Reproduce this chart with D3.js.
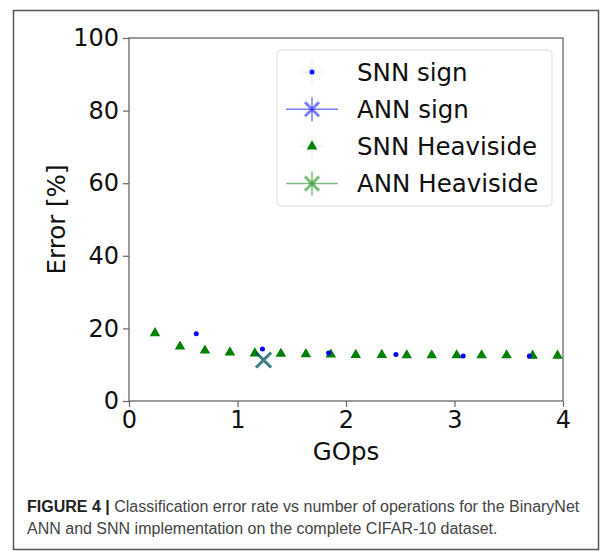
<!DOCTYPE html>
<html>
<head>
<meta charset="utf-8">
<script src="https://cdn.jsdelivr.net/npm/d3@7"></script>
<style>
  body { margin: 0; background: #fff; }
  svg { display: block; }
</style>
</head>
<body>
<svg id="chart" width="604" height="559"></svg>
<script>
    // data
    var snnSignOps = [0.62, 1.23, 1.84, 2.46, 3.08, 3.69];
    var snnSignErr = [18.5, 14.3, 13.2, 12.8, 12.4, 12.4];
    var snnHeavOps = [0.24, 0.47, 0.70, 0.93, 1.16, 1.40, 1.63, 1.86, 2.09, 2.33, 2.56, 2.79, 3.02, 3.25, 3.48, 3.72, 3.95];
    var snnHeavErr = [18.7, 15.0, 13.9, 13.4, 13.1, 13.0, 12.9, 12.8, 12.7, 12.7, 12.6, 12.6, 12.6, 12.6, 12.6, 12.5, 12.5];
    var annSign = [1.24, 11.3];
    var annHeav = [1.24, 11.3];
    var xTicks = [0, 1, 2, 3, 4];
    var yTicks = [0, 20, 40, 60, 80, 100];
    var legendLabels = ['SNN sign', 'ANN sign', 'SNN Heaviside', 'ANN Heaviside'];

    var svg = d3.select('#chart');
    var margin = { top: 38, left: 129, right: 41, bottom: 158 };
    var width = 604 - margin.left - margin.right;
    var height = 559 - margin.top - margin.bottom;

    // outer figure frame
    svg.append('rect')
        .attr('x', 13.5).attr('y', 10.5)
        .attr('width', 585).attr('height', 539)
        .attr('fill', 'none').attr('stroke', '#555').attr('stroke-width', 1.5);

    var x = d3.scaleLinear().domain([0, 4]).range([0, width]);
    var y = d3.scaleLinear().domain([0, 100]).range([height, 0]);

    var g = svg.append('g').attr('transform', 'translate(' + margin.left + ',' + margin.top + ')');

    var xAxis = g.append('g')
        .attr('transform', 'translate(0,' + height + ')')
        .call(d3.axisBottom(x).tickValues(xTicks).tickFormat(d3.format('d')).tickSizeOuter(0).tickSize(6).tickPadding(4));
    var yAxis = g.append('g')
        .call(d3.axisLeft(y).tickValues(yTicks).tickSizeOuter(0).tickSize(6).tickPadding(4));

    [xAxis, yAxis].forEach(function (a) {
        a.select('.domain').remove();
        a.selectAll('line').attr('stroke', '#666').attr('stroke-width', 1.2);
        a.selectAll('text')
            .attr('font-family', 'DejaVu Sans')
            .attr('font-size', 24)
            .attr('fill', '#111');
    });

    // box spines
    g.append('rect')
        .attr('width', width).attr('height', height)
        .attr('fill', 'none').attr('stroke', '#666').attr('stroke-width', 1.3);

    var tri = d3.symbol().type(d3.symbolTriangle).size(48);

    g.selectAll('.heav')
        .data(snnHeavOps)
        .enter().append('path')
        .attr('class', 'heav')
        .attr('transform', function (d, i) { return 'translate(' + x(d) + ',' + y(snnHeavErr[i]) + ')'; })
        .attr('d', tri)
        .attr('fill', 'green');

    g.selectAll('.sign')
        .data(snnSignOps)
        .enter().append('circle')
        .attr('class', 'sign')
        .attr('cx', function (d) { return x(d); })
        .attr('cy', function (d, i) { return y(snnSignErr[i]); })
        .attr('r', 2.5)
        .attr('fill', 'blue');

    function drawX(sel, px, py, color, r) {
        sel.append('path')
            .attr('d', 'M' + (px - r) + ',' + (py - r) + 'L' + (px + r) + ',' + (py + r) +
                'M' + (px - r) + ',' + (py + r) + 'L' + (px + r) + ',' + (py - r))
            .attr('stroke', color).attr('stroke-opacity', 0.5).attr('stroke-width', 3);
    }
    drawX(g, x(annSign[0]), y(annSign[1]), 'blue', 7.5);
    drawX(g, x(annHeav[0]), y(annHeav[1]), 'green', 7.5);

    // axis labels
    svg.append('text')
        .attr('x', margin.left + width / 2).attr('y', 460)
        .attr('text-anchor', 'middle')
        .attr('font-family', 'DejaVu Sans').attr('font-size', 24.5).attr('fill', '#111')
        .text('GOps');
    svg.append('text')
        .attr('transform', 'translate(65,' + (margin.top + height / 2) + ') rotate(-90)')
        .attr('text-anchor', 'middle')
        .attr('font-family', 'DejaVu Sans').attr('font-size', 24.5).attr('fill', '#111')
        .text('Error [%]');

    // legend
    var legend = svg.append('g').attr('transform', 'translate(277,50)');
    legend.append('rect')
        .attr('width', 275).attr('height', 156).attr('rx', 4)
        .attr('fill', '#fff').attr('stroke', '#ddd');

    var rows = legend.selectAll('g.row')
        .data(legendLabels)
        .enter().append('g')
        .attr('class', 'row')
        .attr('transform', function (d, i) { return 'translate(35,' + (22 + i * 37.2) + ')'; });

    rows.append('text')
        .attr('x', 45).attr('dy', '0.36em')
        .attr('font-family', 'DejaVu Sans').attr('font-size', 24.5).attr('fill', '#111')
        .text(function (d) { return d; });

    rows.each(function (d, i) {
        var r = d3.select(this);
        var color = i < 2 ? 'blue' : 'green';
        if (i % 2 === 0) {
            r.append('path').attr('d', 'M-12,0H12M0,-12V12')
                .attr('stroke', color).attr('stroke-opacity', 0.08).attr('stroke-width', 1.5);
            if (i === 0) r.append('circle').attr('r', 2.5).attr('fill', color);
            else r.append('path').attr('d', tri).attr('fill', color);
        } else {
            r.append('path').attr('d', 'M-26,0H26M0,-12V12')
                .attr('stroke', color).attr('stroke-opacity', 0.5).attr('stroke-width', 1.5);
            drawX(r, 0, 0, color, 7);
        }
    });

    // caption
    var cap = svg.append('text')
        .attr('x', 27).attr('y', 512)
        .attr('font-family', 'Liberation Sans').attr('font-size', 16).attr('fill', '#444');
    cap.append('tspan').attr('font-weight', 'bold').attr('fill', '#222').text('FIGURE 4 | ');
    cap.append('tspan').text('Classification error rate vs number of operations for the BinaryNet');
    svg.append('text')
        .attr('x', 27).attr('y', 534)
        .attr('font-family', 'Liberation Sans').attr('font-size', 16).attr('fill', '#444')
        .text('ANN and SNN implementation on the complete CIFAR-10 dataset.');
</script>
</body>
</html>
